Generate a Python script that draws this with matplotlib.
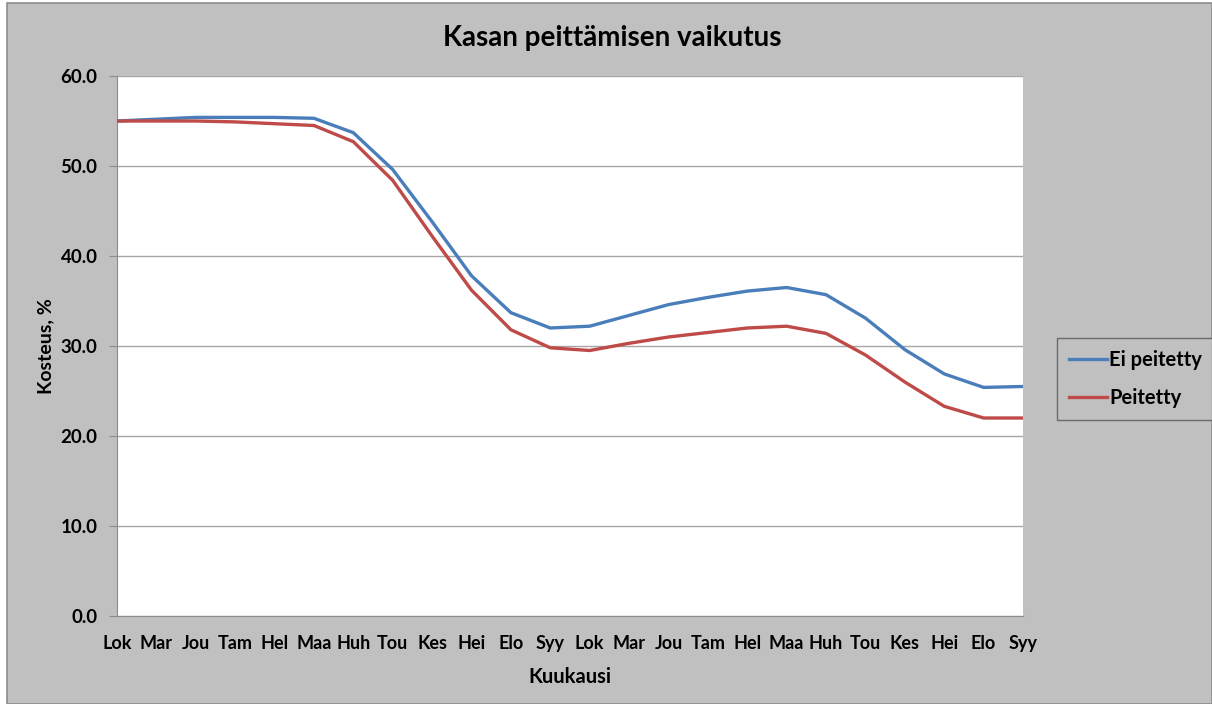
import numpy as np
import matplotlib.pyplot as plt
from matplotlib.patches import Rectangle

# Data
months = ["Lok", "Mar", "Jou", "Tam", "Hel", "Maa", "Huh", "Tou", "Kes", "Hei", "Elo", "Syy",
          "Lok", "Mar", "Jou", "Tam", "Hel", "Maa", "Huh", "Tou", "Kes", "Hei", "Elo", "Syy"]
ei_peitetty = [55.0, 55.2, 55.4, 55.4, 55.4, 55.3, 53.7, 49.6, 43.8, 37.8, 33.7, 32.0,
               32.2, 33.4, 34.6, 35.4, 36.1, 36.5, 35.7, 33.1, 29.6, 26.9, 25.4, 25.5]
peitetty = [55.0, 55.0, 55.0, 54.9, 54.7, 54.5, 52.7, 48.4, 42.2, 36.2, 31.8, 29.8,
            29.5, 30.3, 31.0, 31.5, 32.0, 32.2, 31.4, 29.0, 26.0, 23.3, 22.0, 22.0]
y_ticks = [0, 10, 20, 30, 40, 50, 60]

plt.rcParams["font.family"] = ["Lato", "DejaVu Sans"]
plt.rcParams["font.weight"] = "bold"

W, H = 1212, 704
fig = plt.figure(figsize=(W / 100, H / 100), dpi=100, facecolor="white")

# gray chart area with border
fig.patches.append(Rectangle((7 / W, 0), 1 - 7 / W, 1 - 3 / H, transform=fig.transFigure,
                             facecolor="#c0c0c0", edgecolor="#8c8c8c", linewidth=1.2, zorder=-10))

ax = fig.add_axes([117 / W, 88 / H, 906 / W, 540 / H])
ax.set_facecolor("white")

x = np.arange(len(months))
ax.plot(x, ei_peitetty, color="#4a7ebb", linewidth=2.4, label="Ei peitetty", zorder=3)
ax.plot(x, peitetty, color="#be4b48", linewidth=2.4, label="Peitetty", zorder=3)

ax.set_xlim(0, len(months) - 1)
ax.set_ylim(0, 60)
ax.set_yticks(y_ticks)
ax.set_yticklabels([f"{v:.1f}" for v in y_ticks], fontsize=13.5, fontweight="bold")
ax.set_xticks(x)
ax.set_xticklabels(months, fontsize=13, fontweight="bold")
ax.tick_params(axis="y", direction="out", length=6, color="#8c8c8c", pad=8)
ax.tick_params(axis="x", length=0, pad=14)
ax.grid(axis="y", color="#a6a6a6", linewidth=1)
ax.set_axisbelow(True)
for side in ["top", "right"]:
    ax.spines[side].set_visible(False)
for side in ["left", "bottom"]:
    ax.spines[side].set_color("#8c8c8c")

ax.set_xlabel("Kuukausi", fontsize=14.5, fontweight="bold")
ax.set_ylabel("Kosteus, %", fontsize=14, fontweight="bold")
ax.xaxis.set_label_coords(0.5, -0.094)
ax.yaxis.set_label_coords(-0.069, 0.5)

fig.text(612 / W, 1 - 38 / H, "Kasan peittämisen vaikutus", ha="center", va="center",
         fontsize=20, fontweight="bold")

leg = fig.legend(loc="center left", bbox_to_anchor=(1057 / W, 1 - 379 / H),
                 fontsize=14.5, frameon=True, fancybox=False, handlelength=1.9,
                 handletextpad=0.1, labelspacing=0.9, borderpad=0.6, borderaxespad=0)
leg.get_frame().set_facecolor("#c0c0c0")
leg.get_frame().set_edgecolor("#555555")
for t in leg.get_texts():
    t.set_fontweight("bold")

fig.savefig("out.png", dpi=100, facecolor=fig.get_facecolor())
